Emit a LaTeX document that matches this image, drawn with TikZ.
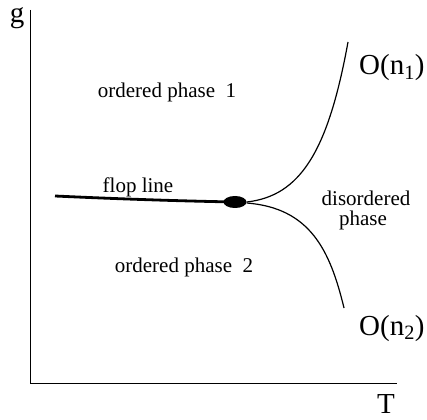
\documentclass[tikz,border=0pt]{standalone}
\usepackage{fontspec}
\setmainfont{Liberation Serif}
\usetikzlibrary{shapes.geometric}
\begin{document}
\begin{tikzpicture}[x=1pt,y=-1pt,
  lbl/.style={font=\fontsize{21}{24}\selectfont, inner sep=0pt, anchor=base},
  big/.style={font=\fontsize{29}{32}\selectfont, inner sep=0pt},
  axis/.style={line width=1pt},
  curve/.style={line width=1.2pt}]
\useasboundingbox (0,0) rectangle (427,419);
% axes
\coordinate (o) at (30,383);
\coordinate (ytop) at (30,10);
\coordinate (xend) at (397,383);
\draw[axis] (ytop) -- (o) -- (xend);
\node[big, anchor=base] (g) at (17,23) {g};
\node[big, anchor=base] (T) at (386,413) {T};
% bicritical point
\node[ellipse, fill=black, minimum width=23pt, minimum height=12pt, inner sep=0pt] (bc) at (235,202) {};
\coordinate (fl) at (55,196);
\coordinate (top) at (348,42);
\coordinate (bot) at (344,308);
\draw[line width=2.8pt] (fl) .. controls (120,199) and (180,201) .. (bc.center);
\draw[curve] (bc.east) .. controls (300,196) and (328,152) .. (top);
\draw[curve] ([yshift=-1pt]bc.east) .. controls (310,208) and (330,250) .. (bot);
% labels
\node[lbl] (op1) at (167,98) {ordered phase\ \ 1};
\node[lbl] (flop) at (138,193) {flop line};
\node[lbl] (dis1) at (366,205) {disordered};
\node[lbl] (dis2) at (363,225) {phase};
\node[lbl] (op2) at (184,272) {ordered phase\ \ 2};
\node[big, anchor=base west] (on1) at (359,75) {O(n\textsubscript{1})};
\node[big, anchor=base west] (on2) at (359,335) {O(n\textsubscript{2})};
\end{tikzpicture}
\end{document}
